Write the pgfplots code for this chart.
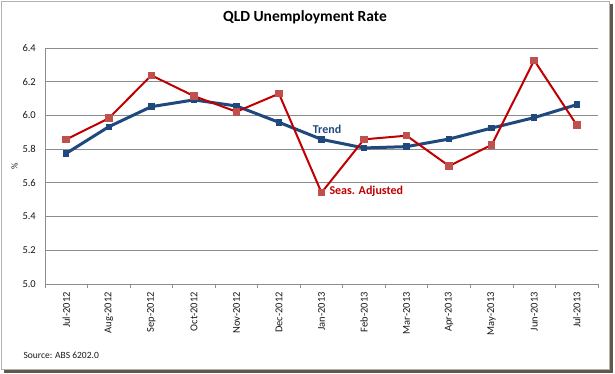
\documentclass[border=0pt]{standalone}
\usepackage{fontspec}
\setmainfont{Carlito}
\usepackage{pgfplots}
\pgfplotsset{compat=1.18}
\definecolor{trendblue}{RGB}{31,73,125}
\definecolor{seasred}{RGB}{192,0,0}
\definecolor{seasmark}{RGB}{192,80,77}
\definecolor{gridgray}{RGB}{140,140,140}
\definecolor{shadow}{RGB}{95,88,75}
\begin{document}
\begin{tikzpicture}
\useasboundingbox (0,0) rectangle (615pt,373pt);
\fill[shadow] (4pt,0pt) rectangle (613pt,369pt);
\fill[white,draw=black!30] (1pt,3.5pt) rectangle (609pt,372pt);
\begin{axis}[
  at={(45pt,89pt)}, anchor=south west,
  scale only axis, width=553pt, height=236pt,
  xmin=-0.5, xmax=12.5, ymin=5, ymax=6.4,
  axis lines*=left,
  axis line style={gridgray, line width=0.8pt},
  ytick={5.0,5.2,5.4,5.6,5.8,6.0,6.2,6.4},
  yticklabel style={/pgf/number format/.cd,fixed,fixed zerofill,precision=1,/tikz/.cd, inner sep=0pt, xshift=-9pt},
  /pgf/number format/assume math mode=true,
  ymajorgrids, grid style={gridgray, line width=0.8pt},
  xtick={0,...,12},
  xticklabels={Jul-2012,Aug-2012,Sep-2012,Oct-2012,Nov-2012,Dec-2012,Jan-2013,Feb-2013,Mar-2013,Apr-2013,May-2013,Jun-2013,Jul-2013},
  xticklabel style={yshift=-8pt, rotate=90, anchor=east, inner sep=0pt},
  minor xtick={-0.5,0.5,...,12.5},
  tick align=outside, major tick length=0pt, minor tick length=4pt,
  minor tick style={gridgray, line width=0.8pt},
  major tick style={draw=none},
  tick label style={font=\fontsize{10.5}{12}\selectfont, color=black!90},
  clip=false,
]
\addplot[trendblue, line width=3pt, mark=square*, mark size=2.7pt, mark options={solid, line width=0pt, fill=trendblue, draw=trendblue}]
coordinates {(0,5.775) (1,5.933) (2,6.052) (3,6.092) (4,6.056) (5,5.959) (6,5.858) (7,5.807) (8,5.815) (9,5.860) (10,5.925) (11,5.987) (12,6.064)};
\addplot[seasred, line width=2pt, mark=square*, mark size=3.3pt, mark options={solid, line width=0pt, fill=seasmark, draw=seasmark}]
coordinates {(0,5.858) (1,5.983) (2,6.238) (3,6.115) (4,6.022) (5,6.129) (6,5.542) (7,5.858) (8,5.880) (9,5.700) (10,5.825) (11,6.327) (12,5.943)};
\end{axis}
\node[font=\bfseries\fontsize{15.5}{18}\selectfont] at (305pt,355.5pt) {QLD Unemployment Rate};
\node[font=\fontsize{9}{10}\selectfont, rotate=90, color=black!90] at (14.7pt,206.3pt) {\%};
\node[font=\fontsize{9.5}{11}\selectfont, anchor=west, inner sep=0pt, color=black!90] at (23.3pt,18pt) {Source: ABS 6202.0};
\node[font=\bfseries\fontsize{12}{14}\selectfont, anchor=west, inner sep=0pt, text=trendblue] at (312.7pt,244pt) {Trend};
\node[font=\bfseries\fontsize{12}{14}\selectfont, anchor=west, inner sep=0pt, text=seasred] at (329.3pt,182pt) {Seas. Adjusted};
\end{tikzpicture}
\end{document}
